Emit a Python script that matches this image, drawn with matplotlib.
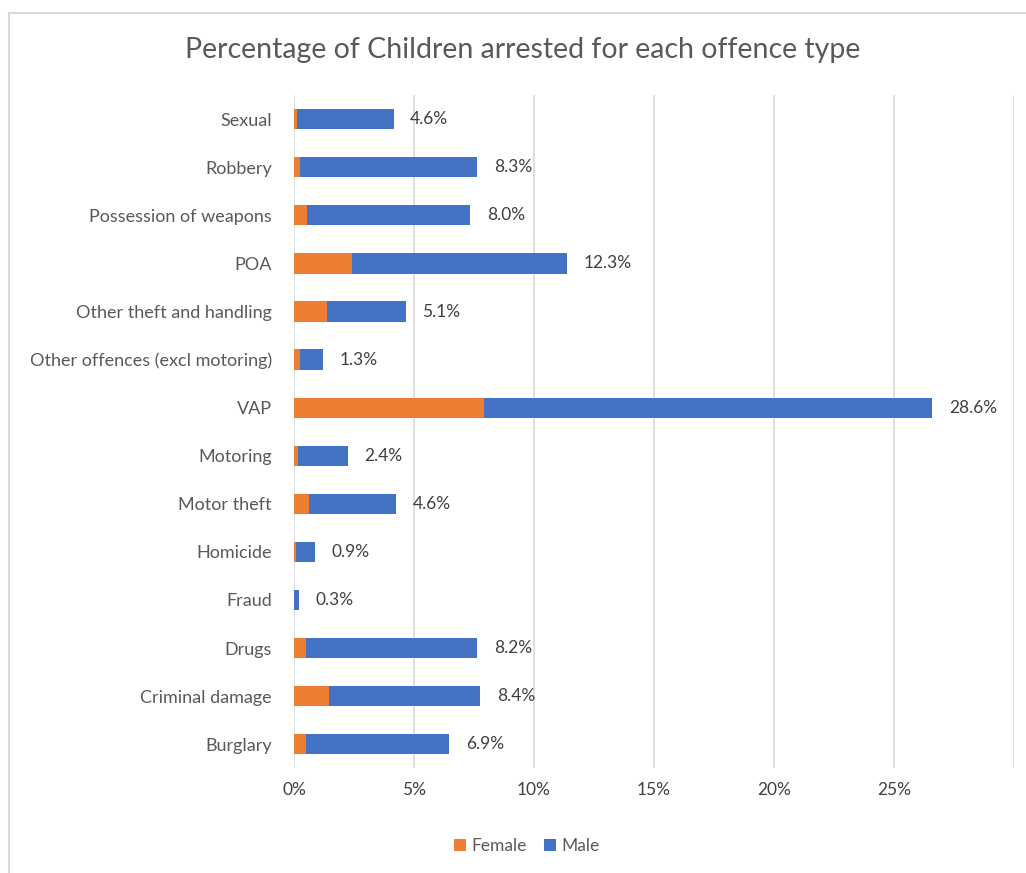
import matplotlib
matplotlib.use("Agg")
import matplotlib.pyplot as plt
from matplotlib.patches import Rectangle
from matplotlib.ticker import FuncFormatter
import numpy as np

# === DATA (values in %) ===
categories = [
    "Burglary", "Criminal damage", "Drugs", "Fraud", "Homicide",
    "Motor theft", "Motoring", "VAP", "Other offences (excl motoring)",
    "Other theft and handling", "POA", "Possession of weapons",
    "Robbery", "Sexual",
]
female = [0.50, 1.44, 0.50, 0.02, 0.08, 0.64, 0.15, 7.93, 0.25, 1.37, 2.41, 0.54, 0.25, 0.12]
male = [5.96, 6.32, 7.13, 0.20, 0.78, 3.63, 2.09, 18.67, 0.95, 3.28, 8.96, 6.80, 7.38, 4.03]
total_labels = ["6.9%", "8.4%", "8.2%", "0.3%", "0.9%", "4.6%", "2.4%", "28.6%",
                "1.3%", "5.1%", "12.3%", "8.0%", "8.3%", "4.6%"]
x_ticks = [0, 5, 10, 15, 20, 25, 30]

ORANGE = "#ED7D31"
BLUE = "#4472C4"
TEXT = "#595959"
GRID = "#D9D9D9"

plt.rcParams["font.family"] = ["Lato", "DejaVu Sans"]


def main():
    fig = plt.figure(figsize=(10.26, 8.73), dpi=100)
    ax = fig.add_axes([0.2865, 0.120, 0.7018, 0.771])

    # outer chart border (cropped on right and bottom)
    fig.patches.append(Rectangle((9 / 1026, -0.01), 1.02, 1 - 13 / 873 + 0.01,
                                 transform=fig.transFigure, fill=False,
                                 edgecolor=GRID, linewidth=1.5))

    y = np.arange(len(categories))
    h = 0.42
    ax.barh(y, female, height=h, color=ORANGE, label="Female", zorder=3)
    ax.barh(y, male, left=female, height=h, color=BLUE, label="Male", zorder=3)

    ends = np.array(female) + np.array(male)
    for yi, xe, lab in zip(y, ends, total_labels):
        ax.annotate(lab, (xe, yi), xytext=(12, 0), textcoords="offset points",
                    ha="left", va="center", fontsize=12.5, color="#404040")

    ax.set_xlim(0, 30)
    ax.set_ylim(-0.5, len(categories) - 0.5)
    ax.set_xticks(x_ticks)
    ax.xaxis.set_major_formatter(FuncFormatter(lambda v, p: "" if v >= 30 else f"{v:.0f}%"))
    ax.set_yticks(y)
    ax.set_yticklabels(categories)
    ax.tick_params(axis="both", length=0, labelsize=12.5, colors=TEXT)
    ax.tick_params(axis="y", labelsize=13, pad=16)
    ax.tick_params(axis="x", pad=10)
    for lbl in ax.get_xticklabels():
        lbl.set_color("#404040")

    ax.grid(axis="x", color=GRID, linewidth=1.2, zorder=0)
    for s in ax.spines.values():
        s.set_visible(False)

    fig.text(523 / 1026, 1 - 50 / 873, "Percentage of Children arrested for each offence type",
             ha="center", va="center", fontsize=20.5, color=TEXT)

    fig.legend(loc="center", bbox_to_anchor=(527 / 1026, 1 - 846 / 873), ncol=2,
               frameon=False, fontsize=12.5, handlelength=0.7, handleheight=0.7,
               handletextpad=0.3, columnspacing=1.0, labelcolor=TEXT)

    fig.savefig("out.png", dpi=100)


if __name__ == "__main__":
    main()
